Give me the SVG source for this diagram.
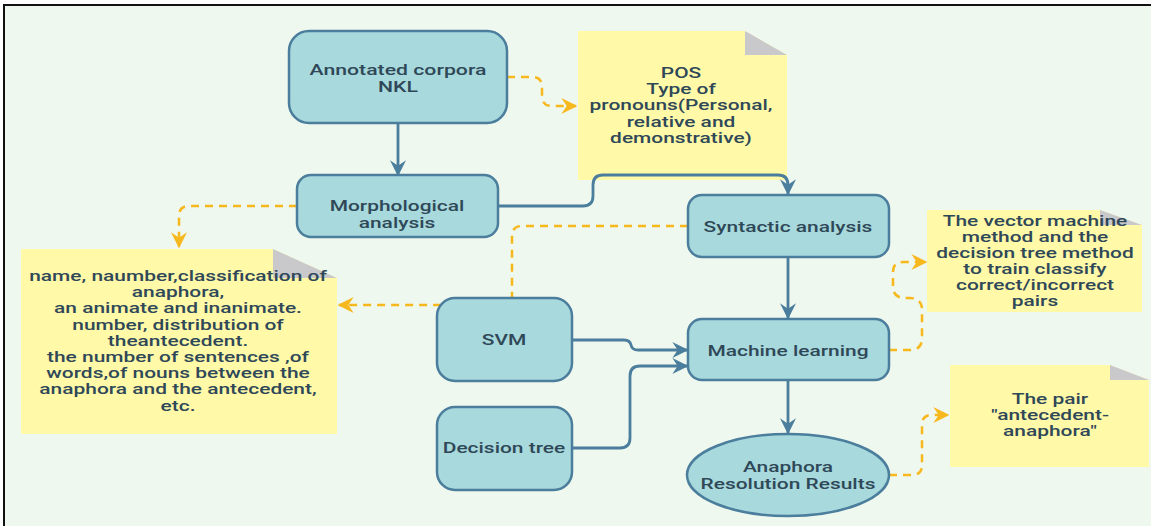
<svg xmlns="http://www.w3.org/2000/svg" width="1151" height="526" viewBox="0 0 1151 526">
  <defs>
    <style>
      .node { fill: #a8d9dc; stroke: #4b7d9c; stroke-width: 2.5; }
      .note { fill: #fff9a8; }
      .fold { fill: #c9c9cc; }
      .lbl { font-family: Roboto, "Liberation Sans", sans-serif; font-size: 15.5px; font-weight: 500; fill: #2f4858; text-anchor: middle; }
      .flow { fill: none; stroke: #4b7d9c; stroke-width: 2.8; }
      .ref { fill: none; stroke: #f6b81c; stroke-width: 2.5; stroke-dasharray: 8 6; }
    </style>
    <marker id="arrBlue" viewBox="0 0 12 12" refX="11" refY="6" markerWidth="16" markerHeight="16" markerUnits="userSpaceOnUse" orient="auto">
      <path d="M0 0 L12 6 L0 12 L4 6 Z" fill="#4b7d9c"/>
    </marker>
    <marker id="arrGold" viewBox="0 0 12 12" refX="11" refY="6" markerWidth="16" markerHeight="16" markerUnits="userSpaceOnUse" orient="auto">
      <path d="M0 0 L12 6 L0 12 L4 6 Z" fill="#f6b81c"/>
    </marker>
  </defs>

  <!-- page -->
  <rect x="0" y="0" width="1151" height="526" fill="#ffffff"/>
  <rect x="4" y="5" width="1147" height="521" fill="#eff8ee"/>
  <path d="M4 526 V5 H1151" fill="none" stroke="#111111" stroke-width="2"/>

  <!-- notes -->
  <g id="note-pos">
    <path class="note" d="M578 31 H745 L787 55 V180 H578 Z"/>
    <path class="fold" d="M745 31 L787 55 H745 Z"/>
    <text class="lbl" transform="translate(681 78) scale(1.35 1)"><tspan x="0" y="0">POS</tspan><tspan x="0" y="16.2">Type of</tspan><tspan x="0" y="32.4">pronouns(Personal,</tspan><tspan x="0" y="48.6">relative and</tspan><tspan x="0" y="64.8">demonstrative)</tspan></text>
  </g>
  <g id="note-features">
    <path class="note" d="M21 249 H273 L337 278 V434 H21 Z"/>
    <path class="fold" d="M273 249 L337 278 H273 Z"/>
    <text class="lbl" transform="translate(178 281) scale(1.35 1)"><tspan x="0" y="0">name, naumber,classification of</tspan><tspan x="0" y="16.2">anaphora,</tspan><tspan x="0" y="32.4">an animate and inanimate.</tspan><tspan x="0" y="48.6">number, distribution of</tspan><tspan x="0" y="64.8">theantecedent.</tspan><tspan x="0" y="81">the number of sentences ,of</tspan><tspan x="0" y="97.2">words,of nouns between the</tspan><tspan x="0" y="113.4">anaphora and the antecedent,</tspan><tspan x="0" y="129.6">etc.</tspan></text>
  </g>
  <g id="note-methods">
    <path class="note" d="M927 210 H1100 L1142 225 V312 H927 Z"/>
    <path class="fold" d="M1100 210 L1142 225 H1100 Z"/>
    <text class="lbl" transform="translate(1035 226) scale(1.35 1)"><tspan x="0" y="0">The vector machine</tspan><tspan x="0" y="16">method and the</tspan><tspan x="0" y="32">decision tree method</tspan><tspan x="0" y="48">to train classify</tspan><tspan x="0" y="64">correct/incorrect</tspan><tspan x="0" y="80">pairs</tspan></text>
  </g>
  <g id="note-pair">
    <path class="note" d="M950 365 H1110 L1149 380 V467 H950 Z"/>
    <path class="fold" d="M1110 365 L1149 380 H1110 Z"/>
    <text class="lbl" transform="translate(1050 404) scale(1.35 1)"><tspan x="0" y="0">The pair</tspan><tspan x="0" y="16">"antecedent-</tspan><tspan x="0" y="32">anaphora"</tspan></text>
  </g>

  <!-- connectors -->
  <g id="connectors">
    <path class="flow" d="M398 123 V175" marker-end="url(#arrBlue)"/>
    <path class="flow" d="M498 206 H583 Q593 206 593 196 V185 Q593 175 603 175 H778 Q788 175 788 185 V194" marker-end="url(#arrBlue)"/>
    <path class="flow" d="M788 257 V318" marker-end="url(#arrBlue)"/>
    <path class="flow" d="M788 380 V433" marker-end="url(#arrBlue)"/>
    <path class="flow" d="M572 340 H624 Q630 340 631 345 Q632 350 638 350 H687" marker-end="url(#arrBlue)"/>
    <path class="flow" d="M572 448 H620 Q630 448 630 438 V376 Q630 366 640 366 H687" marker-end="url(#arrBlue)"/>

    <path class="ref" d="M507 77 H532 Q542 77 542 87 V96 Q542 106 552 106 H576" marker-end="url(#arrGold)"/>
    <path class="ref" d="M297 206 H189 Q179 206 179 216 V247" marker-end="url(#arrGold)"/>
    <path class="ref" d="M688 226 H522 Q512 226 512 236 V305 H339" marker-end="url(#arrGold)"/>
    <path class="ref" d="M889 350 H910 Q922 350 922 338 V310 Q922 298 910 298 H905 Q893 298 893 286 V272 Q893 262 903 262 H926" marker-end="url(#arrGold)"/>
    <path class="ref" d="M889 475 H912 Q922 475 922 465 V425 Q922 415 932 415 H948" marker-end="url(#arrGold)"/>
  </g>

  <!-- process nodes -->
  <g id="annotated-corpora">
    <rect class="node" x="289" y="31" width="218" height="92" rx="20"/>
    <text class="lbl" transform="translate(398 75) scale(1.37 1)"><tspan x="0" y="0">Annotated corpora</tspan><tspan x="0" y="17">NKL</tspan></text>
  </g>
  <g id="morphological-analysis">
    <rect class="node" x="297" y="175" width="201" height="62" rx="14"/>
    <text class="lbl" transform="translate(397 211) scale(1.35 1)"><tspan x="0" y="0">Morphological</tspan><tspan x="0" y="17">analysis</tspan></text>
  </g>
  <g id="syntactic-analysis">
    <rect class="node" x="688" y="195" width="201" height="62" rx="14"/>
    <text class="lbl" transform="translate(788 232) scale(1.35 1)">Syntactic analysis</text>
  </g>
  <g id="machine-learning">
    <rect class="node" x="688" y="319" width="201" height="61" rx="14"/>
    <text class="lbl" transform="translate(788 356) scale(1.35 1)">Machine learning</text>
  </g>
  <g id="svm">
    <rect class="node" x="437" y="298" width="135" height="83" rx="18"/>
    <text class="lbl" transform="translate(504 345) scale(1.35 1)">SVM</text>
  </g>
  <g id="decision-tree">
    <rect class="node" x="437" y="407" width="135" height="83" rx="18"/>
    <text class="lbl" transform="translate(504 453) scale(1.35 1)">Decision tree</text>
  </g>
  <g id="resolution-results">
    <ellipse class="node" cx="788" cy="475" rx="101" ry="41"/>
    <text class="lbl" transform="translate(788 472) scale(1.35 1)"><tspan x="0" y="0">Anaphora</tspan><tspan x="0" y="17">Resolution Results</tspan></text>
  </g>
</svg>
